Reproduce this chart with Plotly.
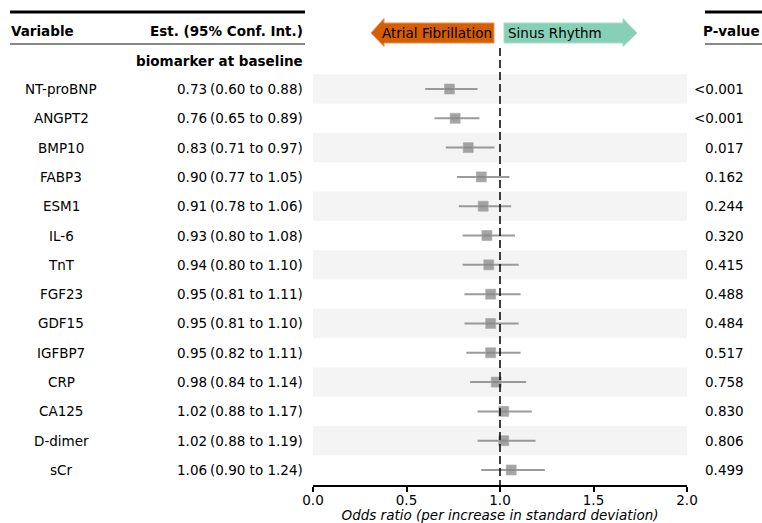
import plotly.graph_objects as go

variables = ["NT-proBNP", "ANGPT2", "BMP10", "FABP3", "ESM1", "IL-6", "TnT",
             "FGF23", "GDF15", "IGFBP7", "CRP", "CA125", "D-dimer", "sCr"]
est = [0.73, 0.76, 0.83, 0.90, 0.91, 0.93, 0.94, 0.95, 0.95, 0.95, 0.98, 1.02, 1.02, 1.06]
lo = [0.60, 0.65, 0.71, 0.77, 0.78, 0.80, 0.80, 0.81, 0.81, 0.82, 0.84, 0.88, 0.88, 0.90]
hi = [0.88, 0.89, 0.97, 1.05, 1.06, 1.08, 1.10, 1.11, 1.10, 1.11, 1.14, 1.17, 1.19, 1.24]
pvals = ["<0.001", "<0.001", "0.017", "0.162", "0.244", "0.320", "0.415",
         "0.488", "0.484", "0.517", "0.758", "0.830", "0.806", "0.499"]
x_ticks = [0.0, 0.5, 1.0, 1.5, 2.0]

W, H = 762, 523
FONT = "DejaVu Sans"
FS = 13.5
ROW0, ROWSTEP = 89.0, (470.0 - 89.0) / 13.0
AX_BOTTOM = 485.0


def px(x):
    return x / W


def py(y):
    return 1 - y / H


def row(ypix):
    return (ypix - ROW0) / ROWSTEP


rows = list(range(len(variables)))
fig = go.Figure()

# shaded bands
shapes = []
for i in rows:
    if i % 2 == 0:
        shapes.append(dict(type="rect", xref="x", yref="y", x0=0, x1=2, y0=i - 0.5, y1=i + 0.5,
                           fillcolor="#f4f4f4", line=dict(width=0), layer="below"))

# reference dashed line
shapes.append(dict(type="line", xref="x", yref="y", x0=1, x1=1, y0=row(48), y1=row(AX_BOTTOM),
                   line=dict(color="black", width=1.5, dash="8px,4px")))

# header lines
shapes += [
    dict(type="line", xref="paper", yref="paper", x0=px(10), x1=px(305), y0=py(12), y1=py(12),
         line=dict(color="black", width=3)),
    dict(type="line", xref="paper", yref="paper", x0=px(10), x1=px(305), y0=py(44), y1=py(44),
         line=dict(color="#888888", width=2)),
    dict(type="line", xref="paper", yref="paper", x0=px(705), x1=px(762), y0=py(12), y1=py(12),
         line=dict(color="black", width=3)),
    dict(type="line", xref="paper", yref="paper", x0=px(705), x1=px(762), y0=py(44), y1=py(44),
         line=dict(color="#888888", width=2)),
]


def path(points):
    return "M " + " L ".join(f"{px(a):.5f},{py(b):.5f}" for a, b in points) + " Z"


# direction arrows
shapes.append(dict(type="path", xref="paper", yref="paper",
                   path=path([(494, 23), (384, 23), (384, 18.5), (371, 33), (384, 46.5), (384, 43), (494, 43)]),
                   fillcolor="#d55e00", line=dict(color="#e8915a", width=1)))
shapes.append(dict(type="path", xref="paper", yref="paper",
                   path=path([(504, 23), (623, 23), (623, 18.5), (637, 33), (623, 46.5), (623, 43), (504, 43)]),
                   fillcolor="#86d0b7", line=dict(color="#a8ddcb", width=1)))

fig.add_trace(go.Scatter(
    x=est, y=rows, mode="markers",
    marker=dict(symbol="square", size=10, color="rgba(135,135,135,0.75)",
                line=dict(color="rgba(170,170,170,0.6)", width=1)),
    error_x=dict(type="data", symmetric=False,
                 array=[h - e for h, e in zip(hi, est)],
                 arrayminus=[e - l for e, l in zip(est, lo)],
                 color="rgba(130,130,130,0.8)", thickness=2, width=0),
    hoverinfo="skip", showlegend=False, cliponaxis=False))

ann = []
f13 = dict(family=FONT, size=FS, color="black")
for i in rows:
    ann.append(dict(xref="paper", yref="y", x=px(61), y=i, text=variables[i], showarrow=False,
                    xanchor="center", yanchor="middle", font=f13))
    ann.append(dict(xref="paper", yref="y", x=px(209), y=i, text=f"{est[i]:.2f}", showarrow=False,
                    xanchor="right", yanchor="middle", font=f13))
    ann.append(dict(xref="paper", yref="y", x=px(305), y=i, text=f"({lo[i]:.2f} to {hi[i]:.2f})",
                    showarrow=False, xanchor="right", yanchor="middle", font=f13))
    ann.append(dict(xref="paper", yref="y", x=px(746), y=i, text=pvals[i], showarrow=False,
                    xanchor="right", yanchor="middle", font=f13))

fb = dict(family=FONT, size=FS, color="black")
ann += [
    dict(xref="paper", yref="paper", x=px(9), y=py(31), text="<b>Variable</b>", showarrow=False,
         xanchor="left", yanchor="middle", font=fb),
    dict(xref="paper", yref="paper", x=px(305), y=py(31), text="<b>Est. (95% Conf. Int.)</b>",
         showarrow=False, xanchor="right", yanchor="middle", font=fb),
    dict(xref="paper", yref="paper", x=px(305), y=py(61), text="<b>biomarker at baseline</b>",
         showarrow=False, xanchor="right", yanchor="middle", font=fb),
    dict(xref="paper", yref="paper", x=px(762), y=py(31), text="<b>P-value</b>", showarrow=False,
         xanchor="right", yanchor="middle", font=fb),
    dict(xref="paper", yref="paper", x=px(380), y=py(33), text="Atrial Fibrillation", showarrow=False,
         xanchor="left", yanchor="middle", font=f13),
    dict(xref="paper", yref="paper", x=px(506), y=py(33), text="Sinus Rhythm", showarrow=False,
         xanchor="left", yanchor="middle", font=f13),
]

fig.update_layout(
    width=W, height=H, margin=dict(l=0, r=0, t=0, b=0, pad=0, autoexpand=False),
    paper_bgcolor="white", plot_bgcolor="white",
    shapes=shapes, annotations=ann,
    xaxis=dict(domain=[px(313), px(687)], range=[0, 2], tickvals=x_ticks,
               ticktext=[f"{v:.1f}" for v in x_ticks], automargin=False,
               showgrid=False, zeroline=False, showline=True, linecolor="black", linewidth=2,
               ticks="outside", ticklen=5, tickwidth=2, tickcolor="black",
               ticklabelstandoff=-3,
               tickfont=dict(family=FONT, size=FS, color="black"),
               title=dict(text="<i>Odds ratio (per increase in standard deviation)</i>",
                          font=dict(family=FONT, size=FS, color="black"), standoff=3),
               fixedrange=True),
    yaxis=dict(domain=[py(AX_BOTTOM), 1], range=[row(AX_BOTTOM), row(0)], automargin=False,
               showgrid=False, zeroline=False, showline=False, showticklabels=False,
               ticks="", fixedrange=True),
    showlegend=False,
)

fig.write_html("out.html", config={"responsive": False, "displayModeBar": False},
               post_script="document.body.style.margin='0';document.body.style.overflow='hidden';")
